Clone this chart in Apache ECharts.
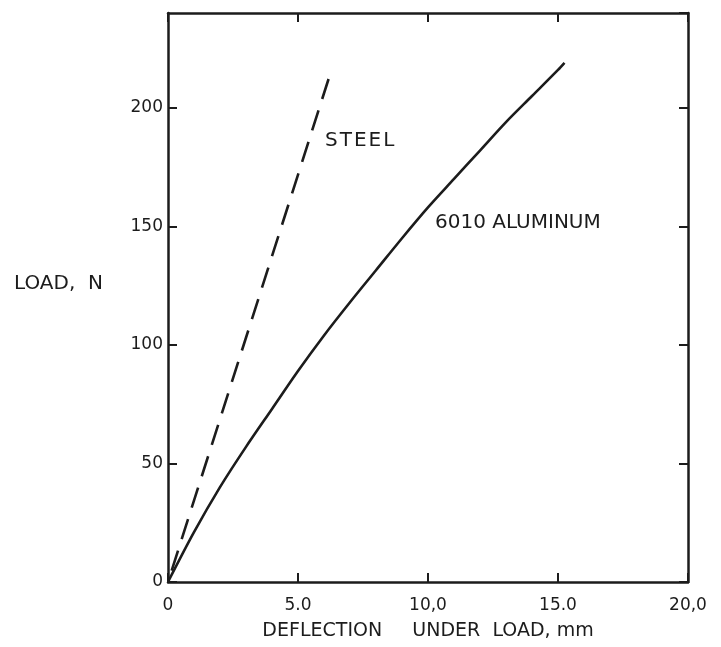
<!DOCTYPE html>
<html>
<head>
<meta charset="utf-8">
<script src="https://cdn.jsdelivr.net/npm/echarts@6/dist/echarts.min.js"></script>
<style>
html,body{margin:0;padding:0;background:#fff;}
#chart{width:721px;height:647px;}
</style>
</head>
<body>
<div id="chart"></div>
<script>
// Data
var xTicks = [0, 5, 10, 15, 20];
var xTickLabels = ["0", "5.0", "10,0", "15.0", "20,0"];
var yTicks = [0, 50, 100, 150, 200];
var yTickLabels = ["0", "50", "100", "150", "200"];

var steelX = [0, 6.2];
var steelY = [0, 213];

var aluminumX = [0, 1, 2, 3, 4, 5, 6, 7, 8, 9, 10, 11, 12, 13, 14, 15, 15.25];
var aluminumY = [0, 21, 40, 57, 73, 89, 104, 118, 131.5, 145, 158, 170, 182, 194, 205, 216, 219];

var steelLabel = {text: "S\u200aT\u200aE\u200aE\u200aL", x: 6.04, y: 186};
var aluminumLabel = {text: "6010 ALUMINUM", x: 10.27, y: 151.5};

function pairs(xs, ys) { return xs.map(function (x, i) { return [x, ys[i]]; }); }

var ink = '#1c1c1c';
var font = 'DejaVu Sans';

var chart = echarts.init(document.getElementById('chart'), null, {renderer: 'canvas'});

function xFmt(v) { var i = xTicks.indexOf(v); return i >= 0 ? xTickLabels[i] : ''; }
function yFmt(v) { var i = yTicks.indexOf(v); return i >= 0 ? yTickLabels[i] : ''; }

var option = {
  backgroundColor: '#ffffff',
  animation: false,
  grid: {left: 168, right: 33, top: 13, bottom: 65, containLabel: false, outerBoundsMode: 'none'},
  xAxis: [{
    type: 'value', min: 0, max: 20, interval: 5, position: 'bottom',
    name: 'DEFLECTION     UNDER  LOAD, mm', nameLocation: 'middle', nameGap: 40,
    nameTextStyle: {color: ink, fontFamily: font, fontSize: 19},
    axisLine: {show: true, lineStyle: {color: ink, width: 2.5}},
    axisTick: {show: true, inside: true, length: 9, lineStyle: {color: ink, width: 2}},
    axisLabel: {color: ink, fontFamily: font, fontSize: 17, margin: 15, formatter: xFmt},
    splitLine: {show: false}
  }, {
    type: 'value', min: 0, max: 20, interval: 5, position: 'top',
    axisLine: {show: true, onZero: false, lineStyle: {color: ink, width: 2.5}},
    axisTick: {show: true, inside: true, length: 9, lineStyle: {color: ink, width: 2}},
    axisLabel: {show: false},
    splitLine: {show: false}
  }],
  yAxis: [{
    type: 'value', min: 0, max: 240, interval: 50, position: 'left',
    axisLine: {show: true, onZero: false, lineStyle: {color: ink, width: 2.5}},
    axisTick: {show: true, inside: true, length: 9, lineStyle: {color: ink, width: 2}},
    axisLabel: {color: ink, fontFamily: font, fontSize: 17, margin: 5, formatter: yFmt, showMaxLabel: false},
    splitLine: {show: false}
  }, {
    type: 'value', min: 0, max: 240, interval: 50, position: 'right',
    axisLine: {show: true, onZero: false, lineStyle: {color: ink, width: 2.5}},
    axisTick: {show: true, inside: true, length: 9, lineStyle: {color: ink, width: 2}},
    axisLabel: {show: false},
    splitLine: {show: false}
  }],
  graphic: [{
    type: 'text', left: 14, top: 274,
    style: {text: 'LOAD,  N', fill: ink, font: '20px "DejaVu Sans"'}
  }],
  series: [{
    type: 'line', name: 'STEEL', data: pairs(steelX, steelY),
    showSymbol: false, symbol: 'none',
    lineStyle: {color: ink, width: 2.6, type: [21, 12], dashOffset: 21},
    markPoint: {
      symbol: 'circle', symbolSize: 0,
      label: {show: true, position: 'right', distance: 0, color: ink, fontFamily: font, fontSize: 20, formatter: '{b}'},
      data: [{name: steelLabel.text, coord: [steelLabel.x, steelLabel.y]}]
    }
  }, {
    type: 'line', name: '6010 ALUMINUM', data: pairs(aluminumX, aluminumY),
    showSymbol: false, symbol: 'none', smooth: 0.3,
    lineStyle: {color: ink, width: 2.6},
    markPoint: {
      symbol: 'circle', symbolSize: 0,
      label: {show: true, position: 'right', distance: 0, color: ink, fontFamily: font, fontSize: 20, formatter: '{b}'},
      data: [{name: aluminumLabel.text, coord: [aluminumLabel.x, aluminumLabel.y]}]
    }
  }]
};
chart.setOption(option);
</script>
</body>
</html>
